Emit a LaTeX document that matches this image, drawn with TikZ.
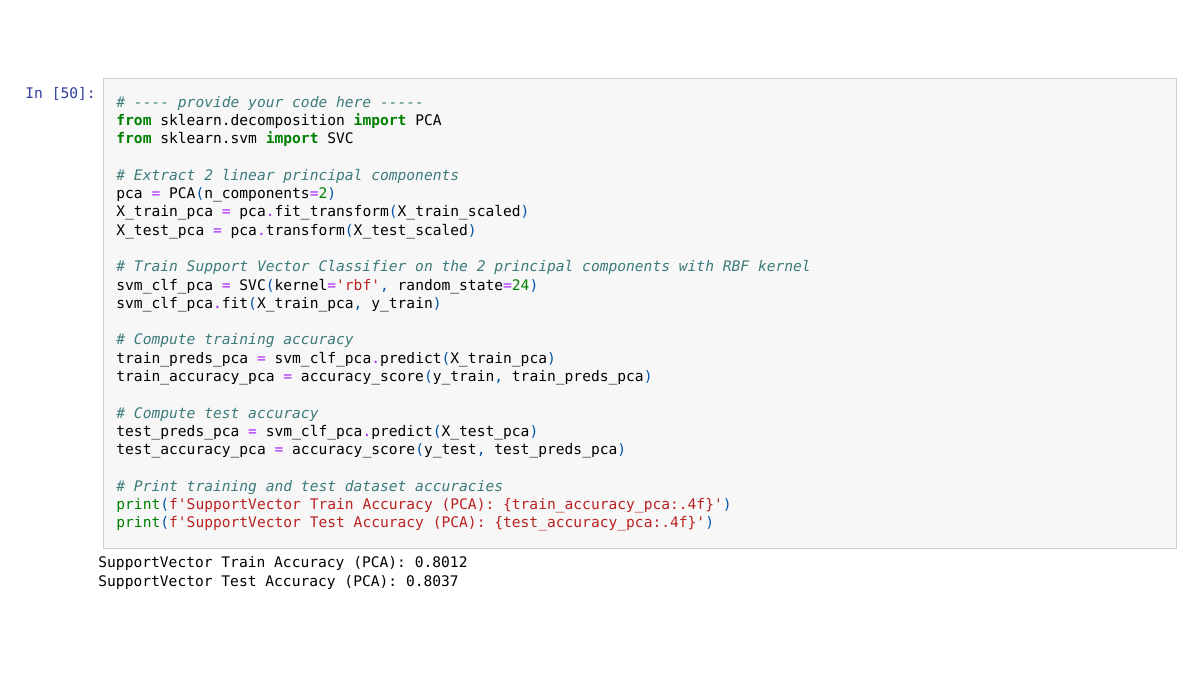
\documentclass[tikz,border=0pt]{standalone}
\usepackage{fontspec}
\newfontfamily\codefont{DejaVu Sans Mono}
\definecolor{kwc}{HTML}{008000}
\definecolor{cmc}{HTML}{3D7B7B}
\definecolor{stc}{HTML}{BA2121}
\definecolor{opc}{HTML}{AA22FF}
\definecolor{pac}{HTML}{0055AA}
\definecolor{nmc}{HTML}{008000}
\definecolor{promptc}{HTML}{303F9F}
\definecolor{cellbg}{HTML}{F7F7F7}
\definecolor{cellbd}{HTML}{CFCFCF}
\newcommand\kw[1]{{\color{kwc}\bfseries #1}}
\newcommand\bi[1]{{\color{kwc}#1}}
\newcommand\cm[1]{{\color{cmc}\itshape #1}}
\newcommand\st[1]{{\color{stc}#1}}
\newcommand\op[1]{{\color{opc}#1}}
\newcommand\pa[1]{{\color{pac}#1}}
\newcommand\nm[1]{{\color{nmc}#1}}
\begin{document}
\begin{tikzpicture}[x=0.5pt,y=-0.5pt,
  code/.style={anchor=base west,inner sep=0pt,font=\codefont\fontsize{7.3}{9}\selectfont}]
\useasboundingbox (0,0) rectangle (1200,675);
\fill[white] (0,0) rectangle (1200,675);
\node[draw=cellbd,fill=cellbg,line width=0.5pt,minimum width=536.5pt,minimum height=235pt,inner sep=0pt,anchor=north west] (cell) at (103,77.5) {};
\node[code,text=promptc] (prompt) at (25,98) {In [50]:};
\def\L#1#2{\node[code] (l#1) at (116,{102+(#1-1)*18.3+5}) {#2};}
\L{1}{\cm{\# ---- provide your code here -----}}
\L{2}{\kw{from} sklearn.decomposition \kw{import} PCA}
\L{3}{\kw{from} sklearn.svm \kw{import} SVC}
\L{5}{\cm{\# Extract 2 linear principal components}}
\L{6}{pca \op{=} PCA\pa{(}n\_components\op{=}\nm{2}\pa{)}}
\L{7}{X\_train\_pca \op{=} pca\op{.}fit\_transform\pa{(}X\_train\_scaled\pa{)}}
\L{8}{X\_test\_pca \op{=} pca\op{.}transform\pa{(}X\_test\_scaled\pa{)}}
\L{10}{\cm{\# Train Support Vector Classifier on the 2 principal components with RBF kernel}}
\L{11}{svm\_clf\_pca \op{=} SVC\pa{(}kernel\op{=}\st{'rbf'}\pa{,} random\_state\op{=}\nm{24}\pa{)}}
\L{12}{svm\_clf\_pca\op{.}fit\pa{(}X\_train\_pca\pa{,} y\_train\pa{)}}
\L{14}{\cm{\# Compute training accuracy}}
\L{15}{train\_preds\_pca \op{=} svm\_clf\_pca\op{.}predict\pa{(}X\_train\_pca\pa{)}}
\L{16}{train\_accuracy\_pca \op{=} accuracy\_score\pa{(}y\_train\pa{,} train\_preds\_pca\pa{)}}
\L{18}{\cm{\# Compute test accuracy}}
\L{19}{test\_preds\_pca \op{=} svm\_clf\_pca\op{.}predict\pa{(}X\_test\_pca\pa{)}}
\L{20}{test\_accuracy\_pca \op{=} accuracy\_score\pa{(}y\_test\pa{,} test\_preds\_pca\pa{)}}
\L{22}{\cm{\# Print training and test dataset accuracies}}
\L{23}{\bi{print}\pa{(}\st{f'SupportVector Train Accuracy (PCA): \{train\_accuracy\_pca:.4f\}'}\pa{)}}
\L{24}{\bi{print}\pa{(}\st{f'SupportVector Test Accuracy (PCA): \{test\_accuracy\_pca:.4f\}'}\pa{)}}
\node[code] (o1) at (98,567) {SupportVector Train Accuracy (PCA): 0.8012};
\node[code] (o2) at (98,586) {SupportVector Test Accuracy (PCA): 0.8037};
\end{tikzpicture}
\end{document}
